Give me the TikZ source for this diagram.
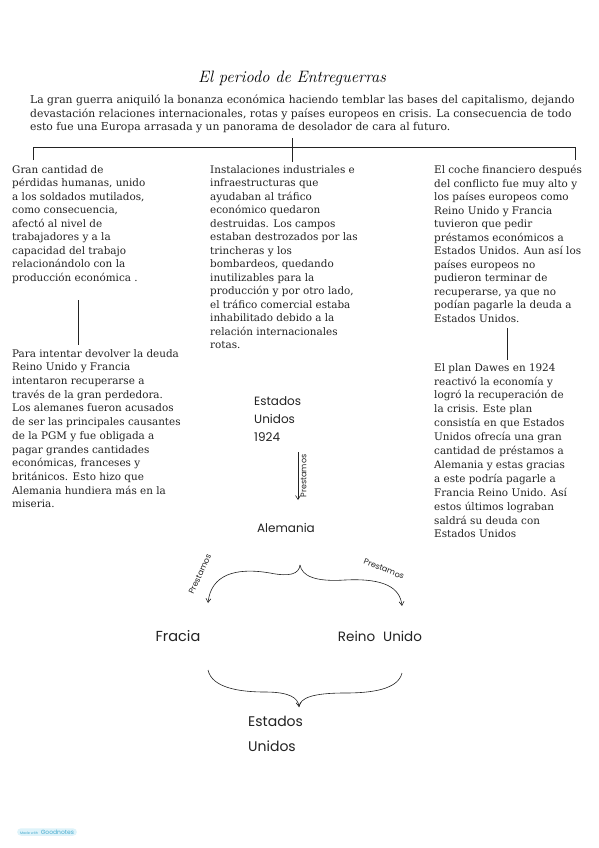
\documentclass[tikz,border=0pt]{standalone}
\usepackage{fontspec}
\setmainfont{DejaVu Serif}
\newfontfamily\manofont{Poppins}
\newfontfamily\titulofont{Latin Modern Roman}
\usetikzlibrary{arrows.meta, positioning, calc}
\definecolor{cTinta}{RGB}{35,35,35}
\definecolor{cBadge}{RGB}{222,243,250}
\definecolor{cBadgeText}{RGB}{70,170,205}
\tikzset{
	parrafo/.style  ={anchor=north west, align=left, inner sep=0pt, text=cTinta, font=\fontsize{10.4}{13.5}\selectfont},
	mano/.style     ={font=\manofont\fontsize{11}{18}\selectfont, text=cTinta, inner sep=1pt},
	manochica/.style={font=\manofont\fontsize{8}{9}\selectfont, text=cTinta, inner sep=0.5pt},
	trazo/.style    ={line width=0.8pt, draw=cTinta},
	flecha/.style   ={-{Straight Barb[length=4pt, width=5pt]}, line width=0.6pt, draw=cTinta},
	badge/.style    ={rounded corners=4pt, fill=cBadge, text=cBadgeText, inner xsep=3pt, inner ysep=1.5pt, font=\manofont},
}

\begin{document}
\begin{tikzpicture}[x=1pt, y=-1pt]
	\useasboundingbox (0,0) rectangle (599,848);
	\fill[white] (0,0) rectangle (599,848);
	% titulo e introduccion
	\node (titulo) at (292,78) {\titulofont\itshape\fontsize{16.5}{18}\selectfont El periodo de Entreguerras};
	\node[parrafo, font=\fontsize{10.8}{13.3}\selectfont] (intro) at (30,95) {La gran guerra aniquiló la bonanza económica haciendo temblar las bases del capitalismo, dejando\\
		devastación relaciones internacionales, rotas y países europeos en crisis. La consecuencia de todo\\
		esto fue una Europa arrasada y un panorama de desolador de cara al futuro.};
	% llave superior
	\coordinate (barra) at (292,147);
	\coordinate (barraIzq) at (33,160);
	\coordinate (barraDer) at (575,160);
	\coordinate (medioArriba) at (292,138);
	\coordinate (medioAbajo) at (292,162);
	\draw[trazo] (barraIzq) -- (barraIzq |- barra) -- (barraDer |- barra) -- (barraDer);
	\draw[trazo] (medioArriba) -- (medioAbajo);
	% columnas
	\node[parrafo] (perdidas) at (12,165) {Gran cantidad de\\ pérdidas humanas, unido\\ a los soldados mutilados,\\ como consecuencia,\\ afectó al nivel de\\ trabajadores y a la\\ capacidad del trabajo\\ relacionándolo con la\\ producción económica .};
	\node[parrafo, font=\fontsize{10.4}{13.7}\selectfont] (deuda) at (12,349) {Para intentar devolver la deuda\\ Reino Unido y Francia\\ intentaron recuperarse a\\ través de la gran perdedora.\\ Los alemanes fueron acusados\\ de ser las principales causantes\\ de la PGM y fue obligada a\\ pagar grandes cantidades\\ económicas, franceses y\\ británicos. Esto hizo que\\ Alemania hundiera más en la\\ miseria.};
	\node[parrafo] (instalaciones) at (210,165) {Instalaciones industriales e\\ infraestructuras que\\ ayudaban al tráfico\\ económico quedaron\\ destruidas. Los campos\\ estaban destrozados por las\\ trincheras y los\\ bombardeos, quedando\\ inutilizables para la\\ producción y por otro lado,\\ el tráfico comercial estaba\\ inhabilitado debido a la\\ relación internacionales\\ rotas.};
	\node[parrafo] (coste) at (434,165) {El coche financiero después\\ del conflicto fue muy alto y\\ los países europeos como\\ Reino Unido y Francia\\ tuvieron que pedir\\ préstamos económicos a\\ Estados Unidos. Aun así los\\ países europeos no\\ pudieron terminar de\\ recuperarse, ya que no\\ podían pagarle la deuda a\\ Estados Unidos.};
	\node[parrafo, font=\fontsize{10.4}{13.9}\selectfont] (dawes) at (434,363) {El plan Dawes en 1924\\ reactivó la economía y\\ logró la recuperación de\\ la crisis. Este plan\\ consistía en que Estados\\ Unidos ofrecía una gran\\ cantidad de préstamos a\\ Alemania y estas gracias\\ a este podría pagarle a\\ Francia Reino Unido. Así\\ estos últimos lograban\\ saldrá su deuda con\\ Estados Unidos};
	\coordinate (lineaIzqA) at (78,300);
	\coordinate (lineaIzqB) at (78,345);
	\coordinate (lineaDerA) at (507,328);
	\coordinate (lineaDerB) at (507,360);
	\draw[trazo] (lineaIzqA) -- (lineaIzqB);
	\draw[trazo] (lineaDerA) -- (lineaDerB);
	% esquema a mano
	\node[mano, align=left, anchor=west, font=\manofont\fontsize{12}{18}\selectfont] (eeuu1924) at (253,419) {Estados\\Unidos\\1924};
	\node[mano, font=\manofont\fontsize{12}{18}\selectfont] (alemania) at (286,528) {Alemania};
	\coordinate (prestamoA) at (298,452);
	\coordinate (prestamoB) at (298,500);
	\draw[flecha] (prestamoA) -- (prestamoB) node[manochica, midway, rotate=90, anchor=north, yshift=-2pt] {Prestamos};
	\coordinate (cuspide) at (300,565);
	\coordinate (finFrancia) at (208,603);
	\coordinate (finReino) at (402,606);
	\draw[flecha] (cuspide) .. controls (299,574) and (290,577) .. (270,573) .. controls (235,567) and (211,575) .. (finFrancia);
	\draw[flecha] (cuspide) .. controls (302,576) and (315,582) .. (345,580) .. controls (385,578) and (400,588) .. (finReino);
	\node[manochica, rotate=65] (prestFrancia) at (200,574) {Prestamos};
	\node[manochica, rotate=-22] (prestReino) at (384,569) {Prestamos};
	\node[mano, font=\manofont\fontsize{14.5}{18}\selectfont] (francia) at (178,636) {Fracia};
	\node[mano, font=\manofont\fontsize{13.5}{18}\selectfont] (reino) at (380,636) {Reino\hspace{8pt}Unido};
	\coordinate (unionIzq) at (208,670);
	\coordinate (unionDer) at (402,673);
	\coordinate (puntaAbajo) at (299,707);
	\draw[trazo, line width=0.6pt] (unionDer) .. controls (398,690) and (370,693) .. (345,693) .. controls (312,693) and (300,698) .. (puntaAbajo);
	\draw[flecha] (unionIzq) .. controls (212,688) and (240,692) .. (265,692) .. controls (290,692) and (298,698) .. (puntaAbajo);
	\node[mano, align=left, anchor=west, font=\manofont\fontsize{14}{25}\selectfont] (eeuu) at (247,734) {Estados\\Unidos};
	% marca
	\node[badge] (goodnotes) at (47,832) {{\fontsize{3.5}{4}\selectfont Made with}\ {\fontsize{6}{7}\selectfont Goodnotes}};
\end{tikzpicture}
\end{document}
